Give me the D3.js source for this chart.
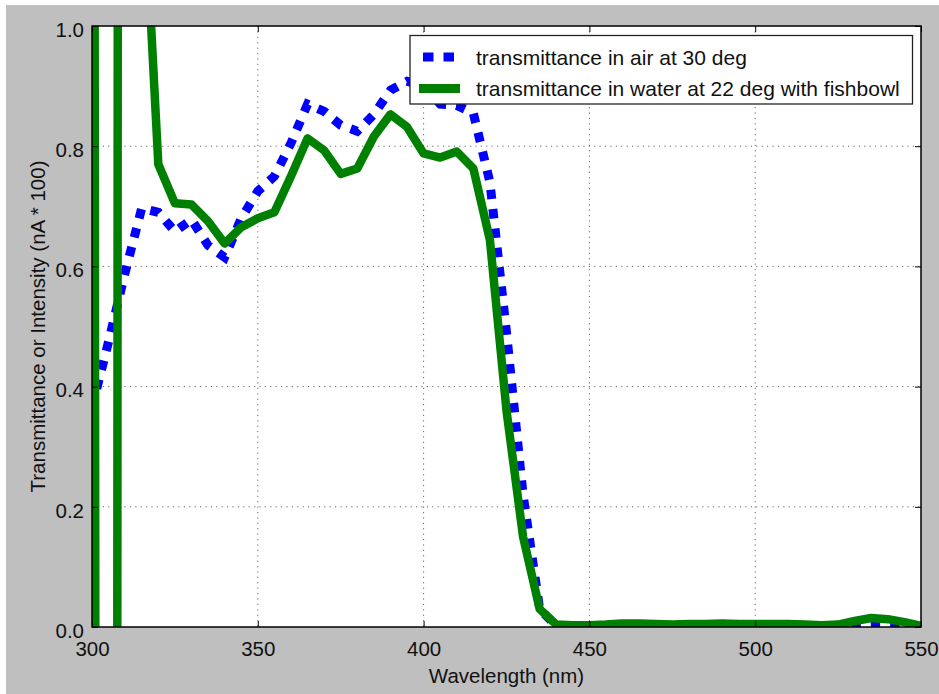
<!DOCTYPE html>
<html>
<head>
<meta charset="utf-8">
<script src="https://d3js.org/d3.v7.min.js"></script>
<style>
  body { margin: 0; background: #fff; }
  svg { display: block; font-family: "Liberation Sans", Arial, sans-serif; }
</style>
</head>
<body>
<div class="chart"></div>
<script>
// wavelengths in nm, 5 nm steps
var wavelengths = [300, 305, 310, 315, 320, 325, 330, 335, 340, 345, 350, 355, 360, 365, 370, 375,
  380, 385, 390, 395, 400, 405, 410, 415, 420, 425, 430, 435, 440, 445, 450, 455, 460, 465, 470,
  475, 480, 485, 490, 495, 500, 505, 510, 515, 520, 525, 530, 535, 540, 545, 550];

var airValues = [0.365, 0.475, 0.59, 0.697, 0.69, 0.658, 0.678, 0.635, 0.615, 0.68, 0.725, 0.75,
  0.805, 0.87, 0.858, 0.835, 0.825, 0.853, 0.893, 0.908, 0.9, 0.87, 0.868, 0.855, 0.74, 0.49,
  0.22, 0.03, 0.002, 0.001, 0.001, 0.002, 0.002, 0.002, 0.002, 0.001, 0.002, 0.002, 0.002, 0.002,
  0.002, 0.002, 0.002, 0.001, 0.001, 0.001, 0.004, 0.006, 0.005, 0.003, 0.001];

// the first points of the water run go far off the scale
var waterValues = [5, -20, 18, 1.3, 0.77, 0.705, 0.703, 0.675, 0.638, 0.665, 0.68, 0.69,
  0.75, 0.813, 0.793, 0.754, 0.763, 0.816, 0.853, 0.832, 0.788, 0.781, 0.791, 0.763, 0.644, 0.36,
  0.15, 0.03, 0.004, 0.003, 0.003, 0.004, 0.006, 0.006, 0.005, 0.004, 0.005, 0.005, 0.006, 0.005,
  0.005, 0.005, 0.005, 0.004, 0.003, 0.004, 0.01, 0.015, 0.013, 0.008, 0.002];

var xTicks = [300, 350, 400, 450, 500, 550];
var yTicks = [0.0, 0.2, 0.4, 0.6, 0.8, 1.0];
var seriesLabels = ["transmittance in air at 30 deg", "transmittance in water at 22 deg with fishbowl"];

var width = 939;
var height = 694;
var plotLeft = 92, plotRight = 921, plotTop = 26, plotBottom = 627;

var svg = d3.select(".chart").append("svg")
  .attr("width", width)
  .attr("height", height);

// grey figure background
svg.append("rect")
  .attr("x", 6).attr("y", 5)
  .attr("width", width - 6).attr("height", height - 5)
  .style("fill", "#bfbfbf");

svg.append("rect")
  .attr("x", plotLeft).attr("y", plotTop)
  .attr("width", plotRight - plotLeft).attr("height", plotBottom - plotTop)
  .style("fill", "#fff");

var x = d3.scaleLinear().domain([300, 550]).range([plotLeft, plotRight]);
var y = d3.scaleLinear().domain([0, 1]).range([plotBottom, plotTop]);

// dotted grid
var grid = svg.append("g").attr("class", "grid");
grid.selectAll("line.gx")
  .data(xTicks.slice(1, -1))
  .enter().append("line")
  .attr("class", "gx")
  .attr("x1", function(d){return x(d)}).attr("x2", function(d){return x(d)})
  .attr("y1", plotTop).attr("y2", plotBottom);
grid.selectAll("line.gy")
  .data(yTicks.slice(1, -1))
  .enter().append("line")
  .attr("class", "gy")
  .attr("y1", function(d){return y(d)}).attr("y2", function(d){return y(d)})
  .attr("x1", plotLeft).attr("x2", plotRight);
grid.selectAll("line")
  .style("stroke", "#666")
  .style("stroke-width", 1)
  .style("stroke-dasharray", "1.2,4.2");

// data lines, clipped to the axes box
svg.append("clipPath").attr("id", "plot-clip")
  .append("rect")
  .attr("x", plotLeft).attr("y", plotTop)
  .attr("width", plotRight - plotLeft).attr("height", plotBottom - plotTop);

var seriesLine = d3.line()
  .x(function(d, i){return x(wavelengths[i])})
  .y(function(d){return y(d)});

var lines = svg.append("g").attr("clip-path", "url(#plot-clip)");

lines.append("path")
  .datum(airValues)
  .attr("d", seriesLine)
  .style("fill", "none")
  .style("stroke", "#0000ff")
  .style("stroke-width", 9)
  .style("stroke-dasharray", "9.5,10");

lines.append("path")
  .datum(waterValues)
  .attr("d", seriesLine)
  .style("fill", "none")
  .style("stroke", "#008000")
  .style("stroke-width", 8.5)
  .style("stroke-linejoin", "round");

// axes: ticks point inwards, on all four sides
var fontSize = "20.5px";

svg.append("g")
  .attr("transform", "translate(0," + plotBottom + ")")
  .call(d3.axisBottom(x).tickValues(xTicks).tickSizeInner(-6).tickSizeOuter(0).tickPadding(14));

var yAxis = svg.append("g")
  .attr("transform", "translate(" + plotLeft + ",0)")
  .call(d3.axisLeft(y).tickValues(yTicks).tickFormat(d3.format(".1f"))
    .tickSizeInner(-6).tickSizeOuter(0).tickPadding(8));
yAxis.selectAll("text").attr("dy", "0.5em");

svg.append("g")
  .attr("transform", "translate(0," + plotTop + ")")
  .call(d3.axisTop(x).tickValues(xTicks).tickSizeInner(-6).tickSizeOuter(0).tickFormat(""));

svg.append("g")
  .attr("transform", "translate(" + plotRight + ",0)")
  .call(d3.axisRight(y).tickValues(yTicks).tickSizeInner(-6).tickSizeOuter(0).tickFormat(""));

svg.selectAll(".domain").remove();
svg.selectAll(".tick line").style("stroke", "#000").style("stroke-width", 1);
svg.selectAll(".tick text")
  .style("font-size", fontSize)
  .style("fill", "#111")
  .style("font-family", "'Liberation Sans', Arial, sans-serif");

// axes frame
svg.append("rect")
  .attr("x", plotLeft).attr("y", plotTop)
  .attr("width", plotRight - plotLeft).attr("height", plotBottom - plotTop)
  .style("fill", "none")
  .style("stroke", "#000")
  .style("stroke-width", 1.5);

// axis titles
svg.append("text")
  .attr("x", (plotLeft + plotRight) / 2)
  .attr("y", 683)
  .attr("text-anchor", "middle")
  .style("font-size", fontSize)
  .style("fill", "#111")
  .text("Wavelength (nm)");

svg.append("text")
  .attr("transform", "translate(45," + (plotTop + plotBottom) / 2 + ") rotate(-90)")
  .attr("text-anchor", "middle")
  .style("font-size", fontSize)
  .style("fill", "#111")
  .text("Transmittance or Intensity (nA * 100)");

// legend
var legend = svg.append("g");
legend.append("rect")
  .attr("x", 410).attr("y", 35.5)
  .attr("width", 502.5).attr("height", 68.5)
  .style("fill", "#fff")
  .style("stroke", "#222")
  .style("stroke-width", 1.3);

var legendRows = [
  {label: seriesLabels[0], color: "#0000ff", width: 9, dash: "10.5,10", x1: 423, x2: 455, y: 57},
  {label: seriesLabels[1], color: "#008000", width: 9, dash: null, x1: 419, x2: 460, y: 88.5}
];

legendRows.forEach(function(r){
  legend.append("line")
    .attr("x1", r.x1).attr("x2", r.x2)
    .attr("y1", r.y).attr("y2", r.y)
    .style("stroke", r.color)
    .style("stroke-width", r.width)
    .style("stroke-dasharray", r.dash);
  legend.append("text")
    .attr("x", 476)
    .attr("y", r.y + 7.5)
    .style("font-size", "21px")
    .style("fill", "#111")
    .text(r.label);
});
</script>
</body>
</html>
